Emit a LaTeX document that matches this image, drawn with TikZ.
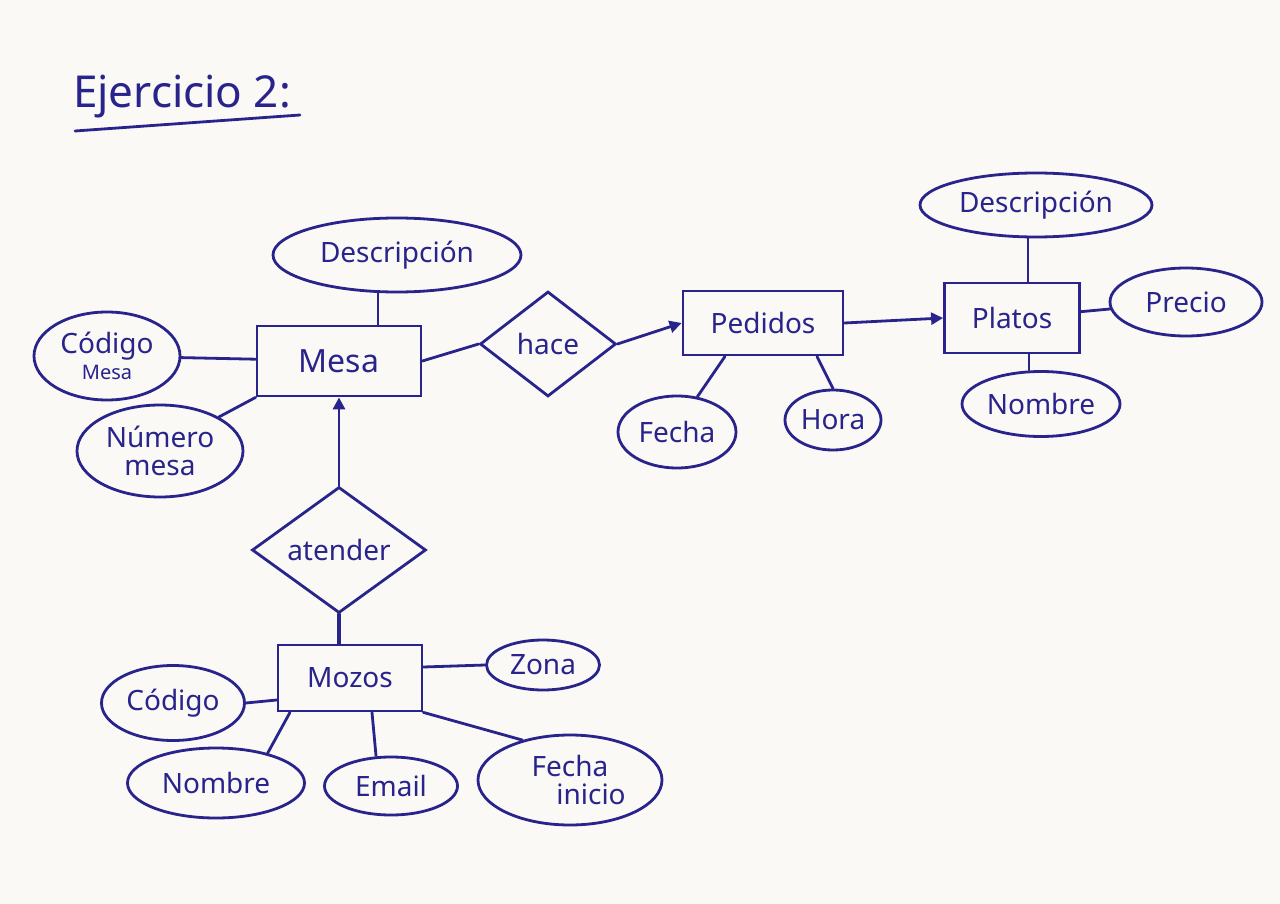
\documentclass[tikz,border=0pt]{standalone}
\usepackage{fontspec}
\setmainfont{Noto Sans}
\usetikzlibrary{shapes.geometric,arrows.meta}
\definecolor{paper}{RGB}{250,249,245}
\definecolor{ink}{RGB}{40,36,140}
\begin{document}
\begin{tikzpicture}[x=1pt,y=-1pt,
  every node/.style={text=ink,font=\fontsize{28}{30}\selectfont},
  ln/.style={draw=ink,line width=2.8pt,line cap=round},
  attr/.style={ellipse,draw=ink,line width=2.8pt,inner sep=0pt},
  ent/.style={rectangle,draw=ink,line width=2.8pt,inner sep=0pt},
  rel/.style={diamond,draw=ink,line width=2.8pt,inner sep=0pt,aspect=1.3},
  arr/.style={ln,-{Triangle[length=12pt,width=12pt]}}]
\fill[paper] (0,0) rectangle (1280,904);
\useasboundingbox (0,0) rectangle (1280,904);
% title
\node (title) at (182,97) {\fontsize{44}{46}\selectfont Ejercicio 2:};
\coordinate (ulA) at (75,131);
\coordinate (ulB) at (300,115);
\draw[ln] (ulA) -- (ulB);
% Mesa
\node[ent,minimum width=164pt,minimum height=70pt] (mesa) at (339,361) {\fontsize{32}{34}\selectfont Mesa};
\node[attr,minimum width=248pt,minimum height=74pt] (descM) at (397,255) {Descripción};
\node[attr,minimum width=146pt,minimum height=88pt,align=center] (codM) at (107,356) {Código\\[-4pt]{\fontsize{20}{22}\selectfont Mesa}};
\node[attr,minimum width=166pt,minimum height=92pt,align=center] (numM) at (160,451) {Número\\[-2pt]mesa};
% hace
\node[rel,minimum width=136pt,minimum height=105pt] (hace) at (548,344) {hace};
% Pedidos
\node[ent,minimum width=160pt,minimum height=64pt] (ped) at (763,323) {Pedidos};
\node[attr,minimum width=118pt,minimum height=72pt] (fecha) at (677,432) {Fecha};
\node[attr,minimum width=96pt,minimum height=60pt] (hora) at (833,420) {Hora};
% Platos
\node[ent,minimum width=135pt,minimum height=70pt] (plat) at (1012,318) {Platos};
\node[attr,minimum width=232pt,minimum height=64pt] (descP) at (1036,205) {Descripción};
\node[attr,minimum width=152pt,minimum height=68pt] (precio) at (1186,302) {Precio};
\node[attr,minimum width=158pt,minimum height=65pt] (nomP) at (1041,404) {Nombre};
% atender
\node[rel,minimum width=174pt,minimum height=126pt,aspect=1.4] (aten) at (339,550) {atender};
% Mozos
\node[ent,minimum width=144pt,minimum height=66pt] (mozos) at (350,678) {Mozos};
\node[attr,minimum width=113pt,minimum height=50pt] (zona) at (543,665) {Zona};
\node[attr,minimum width=143pt,minimum height=75pt] (codZ) at (173,703) {Código};
\node[attr,minimum width=177pt,minimum height=70pt] (nomZ) at (216,783) {Nombre};
\node[attr,minimum width=133pt,minimum height=58pt] (email) at (391,786) {Email};
\node[attr,minimum width=184pt,minimum height=90pt,align=center] (fini) at (570,780) {Fecha\\[-2pt]\hspace{1.5em}inicio};
% connectors
\draw[ln] (descM.south -| 378,0) -- (mesa.north -| 378,0);
\draw[ln] (codM) -- (mesa);
\draw[ln] (numM.30) -- (mesa.south west);
\draw[ln] (mesa.east) -- (hace.west);
\draw[arr] (hace.east) -- (ped.west);
\draw[ln] (ped.south -| 725,0) -- (fecha.60);
\draw[ln] (ped.south -| 817,0) -- (hora.north);
\draw[arr] (ped.east) -- (plat.west);
\draw[ln] (descP.south -| 1028,0) -- (plat.north -| 1028,0);
\draw[ln] (plat) -- (precio);
\draw[ln] (plat.south -| 1029,0) -- (nomP.north -| 1029,0);
\draw[arr] (aten.north) -- (mesa.south);
\draw[ln,line width=3.4pt] (aten.south) -- (mozos.north -| aten.south);
\draw[ln] (mozos.east |- 0,667) -- (zona.west);
\draw[ln] (mozos.west |- 0,700) -- (codZ.east);
\draw[ln] (mozos.south -| 290,0) -- (nomZ.30);
\draw[ln] (mozos.south -| 372,0) -- (email.north -| 376,0);
\draw[ln] (mozos.south east) -- (fini.140);
\end{tikzpicture}
\end{document}
